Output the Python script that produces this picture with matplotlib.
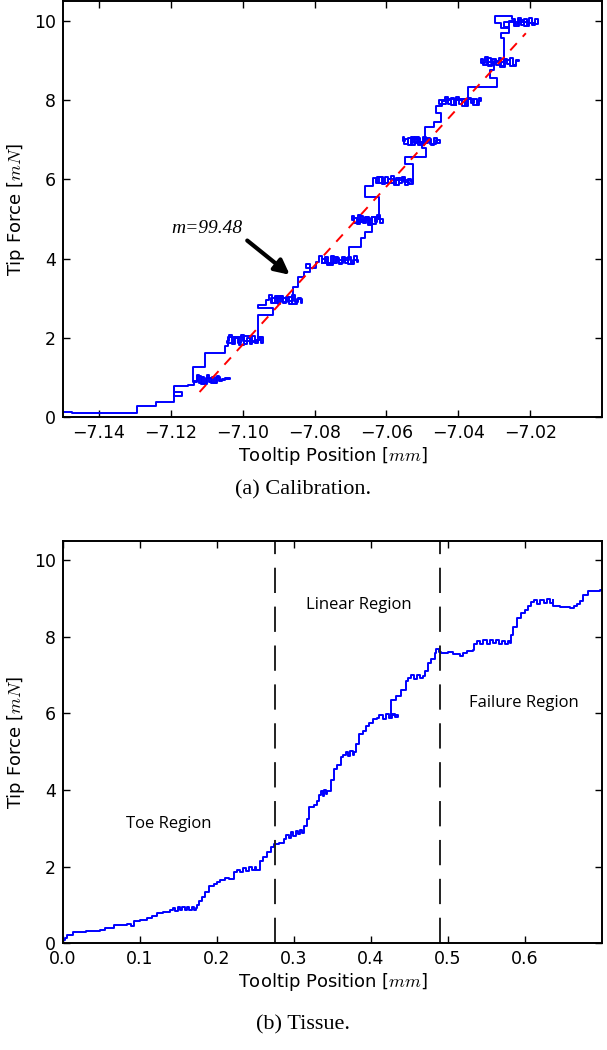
import matplotlib
matplotlib.use("Agg")
import matplotlib.pyplot as plt

plt.rcParams['mathtext.fontset'] = 'cm'
plt.rcParams['font.family'] = ['DejaVu Sans']

# ---------------- Calibration data (a) ----------------
# approach + hold segments of the trace, in order (position mm, force mN)
seg0_x = [-7.1500, -7.1475, -7.1475, -7.1295, -7.1295, -7.1240, -7.1240, -7.1190, -7.1190, -7.1190,
          -7.1168, -7.1168, -7.1190, -7.1190, -7.1152, -7.1152, -7.1135]
seg0_y = [0.13, 0.13, 0.10, 0.19, 0.27, 0.28, 0.39, 0.40, 0.75, 0.64,
          0.62, 0.52, 0.52, 0.77, 0.77, 0.81, 0.81]
hold1_x = [-7.1135, -7.1128, -7.1121, -7.1114, -7.1107, -7.1100, -7.1093, -7.1086, -7.1079, -7.1072,
           -7.1065, -7.1058, -7.1036, -7.1050, -7.1062, -7.1074, -7.1088, -7.1101, -7.1115, -7.1128, -7.1137]
hold1_y = [0.92, 1.06, 0.86, 1.02, 0.84, 1.05, 0.88, 1.00, 0.85, 1.04,
           0.90, 0.97, 0.98, 0.93, 1.01, 0.87, 0.99, 0.83, 1.03, 0.88, 0.98]
seg1_x = [-7.1137, -7.1106, -7.1106, -7.1050, -7.1050, -7.1040, -7.1040]
seg1_y = [1.27, 1.31, 1.61, 1.61, 1.78, 1.78, 1.88]
hold2_x = [-7.1045, -7.1037, -7.1029, -7.1021, -7.1013, -7.1005, -7.0997, -7.0989, -7.0981, -7.0973,
           -7.0965, -7.0957, -7.0949, -7.0944, -7.0952, -7.0966, -7.0980, -7.0995, -7.1010, -7.1025,
           -7.1040, -7.1000, -7.0958]
hold2_y = [1.92, 2.06, 1.84, 2.03, 1.86, 2.07, 1.85, 2.00, 1.83, 2.04,
           1.88, 2.01, 1.86, 2.02, 1.95, 1.89, 2.05, 1.82, 1.99, 1.87,
           2.03, 1.93, 2.00]
seg2_x = [-7.0958, -7.0917, -7.0917, -7.0958, -7.0958, -7.0935]
seg2_y = [2.58, 2.58, 2.74, 2.74, 2.82, 2.82]
hold3_x = [-7.0935, -7.0927, -7.0919, -7.0911, -7.0903, -7.0895, -7.0887, -7.0879, -7.0871, -7.0863,
           -7.0855, -7.0847, -7.0839, -7.0836, -7.0848, -7.0862, -7.0876, -7.0890, -7.0905, -7.0920,
           -7.0880, -7.0860]
hold3_y = [2.95, 3.08, 2.88, 3.05, 2.86, 3.06, 2.89, 3.03, 2.85, 3.07,
           2.90, 3.01, 2.87, 2.97, 2.84, 3.02, 2.91, 3.06, 2.88, 3.00,
           2.93, 3.04]
seg3_x = [-7.0860, -7.0846, -7.0846, -7.0828, -7.0828, -7.0814, -7.0814, -7.0823, -7.0823, -7.0795]
seg3_y = [3.28, 3.28, 3.54, 3.54, 3.66, 3.66, 3.87, 3.87, 3.76, 3.76]
hold4_x = [-7.0795, -7.0787, -7.0779, -7.0771, -7.0763, -7.0755, -7.0747, -7.0739, -7.0731, -7.0723,
           -7.0715, -7.0707, -7.0699, -7.0691, -7.0683, -7.0680, -7.0692, -7.0706, -7.0720, -7.0735,
           -7.0750, -7.0765, -7.0780, -7.0740, -7.0703]
hold4_y = [3.92, 4.06, 3.88, 4.04, 3.86, 4.07, 3.90, 4.02, 3.85, 4.05,
           3.89, 4.03, 3.87, 4.06, 3.91, 3.96, 3.86, 4.01, 3.88, 4.04,
           3.84, 4.00, 3.90, 3.97, 3.96]
seg4_x = [-7.0703, -7.0671, -7.0671, -7.0660, -7.0660, -7.0640, -7.0640]
seg4_y = [4.30, 4.30, 4.51, 4.51, 4.67, 4.67, 4.85]
hold5_x = [-7.0650, -7.0660, -7.0670, -7.0680, -7.0690, -7.0697, -7.0689, -7.0681, -7.0673, -7.0665,
           -7.0657, -7.0649, -7.0641, -7.0633, -7.0625, -7.0617, -7.0609, -7.0618, -7.0630, -7.0645,
           -7.0660, -7.0675, -7.0640, -7.0621]
hold5_y = [5.05, 4.92, 5.09, 4.90, 5.07, 4.98, 5.03, 4.88, 5.08, 4.91,
           5.06, 4.89, 5.04, 4.93, 5.09, 4.90, 4.99, 5.05, 4.87, 5.02,
           4.92, 4.97, 5.06, 5.00]
seg5_x = [-7.0621, -7.0659, -7.0659, -7.0636]
seg5_y = [5.56, 5.56, 5.82, 5.82]
hold6_x = [-7.0636, -7.0628, -7.0620, -7.0612, -7.0604, -7.0596, -7.0588, -7.0580, -7.0572, -7.0564,
           -7.0556, -7.0548, -7.0540, -7.0532, -7.0525, -7.0525, -7.0538, -7.0552, -7.0566, -7.0580,
           -7.0595, -7.0610, -7.0625, -7.0580, -7.0525]
hold6_y = [6.03, 5.90, 6.07, 5.88, 6.05, 5.91, 6.08, 5.89, 6.04, 5.92,
           6.06, 5.87, 6.02, 5.93, 5.97, 5.89, 5.93, 6.04, 5.86, 6.01,
           5.90, 6.05, 5.92, 5.99, 6.00]
seg6_x = [-7.0525, -7.0548, -7.0548, -7.0489, -7.0489, -7.0500]
seg6_y = [6.40, 6.40, 6.57, 6.57, 6.80, 6.80]
hold7_x = [-7.0500, -7.0510, -7.0520, -7.0530, -7.0540, -7.0550, -7.0555, -7.0547, -7.0539, -7.0531,
           -7.0523, -7.0515, -7.0507, -7.0499, -7.0491, -7.0483, -7.0475, -7.0467, -7.0459, -7.0450,
           -7.0462, -7.0478, -7.0495, -7.0512, -7.0530, -7.0494]
hold7_y = [6.95, 7.07, 6.88, 7.05, 6.90, 7.08, 6.96, 7.02, 6.86, 7.06,
           6.91, 7.04, 6.89, 7.07, 6.92, 7.03, 6.87, 7.05, 6.93, 6.99,
           6.90, 7.04, 6.86, 7.01, 6.94, 6.98]
seg7_x = [-7.0494, -7.0467, -7.0467, -7.0449, -7.0449, -7.0462, -7.0462, -7.0445]
seg7_y = [7.33, 7.33, 7.46, 7.46, 7.67, 7.67, 7.85, 7.85]
hold8_x = [-7.0445, -7.0437, -7.0429, -7.0421, -7.0413, -7.0405, -7.0397, -7.0389, -7.0381, -7.0373,
           -7.0365, -7.0357, -7.0349, -7.0341, -7.0336, -7.0346, -7.0360, -7.0375, -7.0390, -7.0405,
           -7.0420, -7.0435, -7.0453, -7.0420, -7.0374]
hold8_y = [7.97, 8.08, 7.90, 8.06, 7.88, 8.07, 7.91, 8.04, 7.86, 8.06,
           7.92, 8.03, 7.89, 8.05, 7.97, 7.88, 8.02, 7.84, 8.00, 7.89,
           8.04, 7.91, 8.00, 8.02, 7.98]
seg8_x = [-7.0374, -7.0292, -7.0292, -7.0311, -7.0311, -7.0300]
seg8_y = [8.34, 8.34, 8.55, 8.55, 8.76, 8.76]
hold9_x = [-7.0300, -7.0310, -7.0320, -7.0330, -7.0336, -7.0326, -7.0316, -7.0306, -7.0296, -7.0288,
           -7.0280, -7.0272, -7.0264, -7.0256, -7.0248, -7.0240, -7.0231, -7.0240, -7.0255, -7.0270,
           -7.0285, -7.0300, -7.0318, -7.0272]
hold9_y = [8.95, 9.07, 8.88, 9.05, 8.93, 9.08, 8.87, 9.04, 8.90, 9.06,
           8.86, 9.03, 8.91, 9.07, 8.89, 9.02, 8.99, 8.87, 9.01, 8.84,
           8.98, 8.90, 8.96, 8.95]
seg9_x = [-7.0272, -7.0281, -7.0281, -7.0258, -7.0258, -7.0280, -7.0280]
seg9_y = [9.56, 9.56, 9.69, 9.69, 9.81, 9.81, 9.95]
hold10_x = [-7.0299, -7.0299, -7.0250, -7.0250, -7.0242, -7.0234, -7.0226, -7.0218, -7.0210, -7.0202,
            -7.0194, -7.0186, -7.0178, -7.0178, -7.0190, -7.0204, -7.0218, -7.0232, -7.0246, -7.0260,
            -7.0274, -7.0240, -7.0210]
hold10_y = [9.95, 10.12, 10.12, 10.05, 9.92, 10.07, 9.89, 10.06, 9.91, 10.08,
            9.90, 10.04, 10.00, 9.92, 9.96, 9.88, 10.03, 9.87, 10.01, 9.85,
            9.98, 9.97, 10.00]

calib_pos = (seg0_x + hold1_x + seg1_x + hold2_x + seg2_x + hold3_x + seg3_x + hold4_x
             + seg4_x + hold5_x + seg5_x + hold6_x + seg6_x + hold7_x + seg7_x + hold8_x
             + seg8_x + hold9_x + seg9_x + hold10_x)
calib_force = (seg0_y + hold1_y + seg1_y + hold2_y + seg2_y + hold3_y + seg3_y + hold4_y
               + seg4_y + hold5_y + seg5_y + hold6_y + seg6_y + hold7_y + seg7_y + hold8_y
               + seg8_y + hold9_y + seg9_y + hold10_y)

fit_pos = [-7.1120, -7.0212]
fit_force = [0.63, 9.69]
slope_label = "m=99.48"
calib_xticks = [-7.14, -7.12, -7.10, -7.08, -7.06, -7.04, -7.02]
yticks = [0, 2, 4, 6, 8, 10]

# ---------------- Tissue data (b) ----------------
tissue_pos = [
    0.000, 0.003, 0.005, 0.010, 0.013, 0.030, 0.048, 0.055, 0.066, 0.075,
    0.083, 0.088, 0.092, 0.100, 0.109, 0.115, 0.122, 0.130, 0.139,
    0.143, 0.146, 0.149, 0.152, 0.155, 0.158, 0.161, 0.164, 0.167, 0.170, 0.173, 0.174,
    0.176, 0.180, 0.185, 0.190, 0.196, 0.200, 0.204, 0.210, 0.215, 0.222,
    0.226, 0.230, 0.234, 0.238, 0.242, 0.246, 0.249, 0.251,
    0.256, 0.260, 0.265, 0.270, 0.274, 0.280, 0.287,
    0.290, 0.293, 0.296, 0.299, 0.302, 0.305, 0.308, 0.311,
    0.313, 0.317, 0.320, 0.326, 0.330,
    0.333, 0.335, 0.337, 0.339, 0.341, 0.343,
    0.348, 0.352, 0.356, 0.361,
    0.364, 0.367, 0.370, 0.373, 0.376, 0.378,
    0.380, 0.385, 0.390, 0.393, 0.398, 0.403, 0.408,
    0.411, 0.415, 0.419, 0.423, 0.427, 0.431, 0.435, 0.426,
    0.426, 0.432, 0.439, 0.445,
    0.448, 0.452, 0.456, 0.460, 0.464, 0.468,
    0.470, 0.474, 0.478, 0.483, 0.485, 0.488, 0.491, 0.500, 0.506, 0.515, 0.520, 0.525, 0.532, 0.534,
    0.538, 0.542, 0.546, 0.550, 0.554, 0.558, 0.562, 0.566, 0.570, 0.574, 0.578, 0.580,
    0.582, 0.584, 0.589, 0.595, 0.600, 0.604, 0.608,
    0.612, 0.616, 0.620, 0.624, 0.628, 0.632, 0.636,
    0.636, 0.645, 0.652, 0.658, 0.664, 0.668, 0.671, 0.675, 0.682, 0.690, 0.697, 0.700,
]
tissue_force = [
    0.09, 0.15, 0.22, 0.22, 0.30, 0.31, 0.35, 0.40, 0.48, 0.47,
    0.50, 0.45, 0.58, 0.60, 0.65, 0.70, 0.78, 0.82, 0.87,
    0.92, 0.85, 0.95, 0.86, 0.94, 0.87, 0.96, 0.86, 0.95, 0.87, 0.93, 1.00,
    1.10, 1.22, 1.35, 1.50, 1.55, 1.60, 1.65, 1.70, 1.68, 1.85,
    1.92, 1.86, 1.97, 1.88, 1.99, 1.90, 1.98, 1.92,
    2.15, 2.25, 2.38, 2.50, 2.60, 2.62, 2.72,
    2.82, 2.76, 2.90, 2.80, 2.93, 2.84, 2.95, 2.88,
    3.05, 3.25, 3.55, 3.62, 3.70,
    3.88, 3.98, 3.85, 4.00, 3.90, 3.98,
    4.25, 4.55, 4.65, 4.85,
    4.90, 5.00, 4.88, 5.02, 4.92, 5.00,
    5.20, 5.45, 5.55, 5.66, 5.75, 5.85, 5.88,
    5.95, 5.86, 5.97, 5.88, 5.98, 5.90, 5.95, 5.92,
    6.35, 6.44, 6.61, 6.83,
    6.92, 7.00, 6.90, 7.00, 6.92, 6.98,
    7.10, 7.30, 7.42, 7.58, 7.67, 7.60, 7.58, 7.60, 7.55, 7.50, 7.58, 7.62, 7.66, 7.80,
    7.88, 7.80, 7.90, 7.82, 7.90, 7.83, 7.91, 7.82, 7.89, 7.80, 7.88, 7.84,
    8.04, 8.26, 8.48, 8.62, 8.70, 8.79, 8.90,
    8.95, 8.85, 8.96, 8.87, 8.97, 8.88, 8.95,
    8.80, 8.78, 8.77, 8.75, 8.80, 8.85, 8.92, 9.08, 9.18, 9.20, 9.22, 9.21,
]
region_bounds = [0.275, 0.49]
region_labels = ["Toe Region", "Linear Region", "Failure Region"]
region_label_pos = [(0.137, 3.1), (0.384, 8.83), (0.599, 6.27)]
tissue_xticks = [0.0, 0.1, 0.2, 0.3, 0.4, 0.5, 0.6]

# ---------------- Figure ----------------
fig = plt.figure(figsize=(6.07, 10.5), dpi=100)
ax1 = fig.add_axes([0.1038, 0.6029, 0.888, 0.396])
ax2 = fig.add_axes([0.1038, 0.1016, 0.888, 0.3834])

def style(ax):
    for s in ax.spines.values():
        s.set_linewidth(1.4)
    ax.tick_params(direction='in', top=True, right=True, length=5, width=1,
                   labelsize=12.5, pad=5, colors='black')
    ax.set_yticks(yticks)
    ax.set_yticklabels([str(v) for v in yticks])
    ax.set_ylim(0, 10.5)
    ax.set_ylabel('Tip Force [$mN$]', fontsize=13, labelpad=5)
    ax.set_xlabel('Tooltip Position [$mm$]', fontsize=13, labelpad=2)

# (a)
ax1.plot(calib_pos, calib_force, color='#0000ff', lw=1.4, drawstyle='steps-post')
ax1.plot(fit_pos, fit_force, color='red', lw=1.4, linestyle=(0, (5, 4.5)))
ax1.set_xlim(-7.15, -7.00)
ax1.set_xticks(calib_xticks)
ax1.set_xticklabels(['\u2212%.2f' % abs(v) for v in calib_xticks])
style(ax1)
ax1.annotate(slope_label, xy=(-7.0869, 3.59), xytext=(-7.110, 4.77),
             ha='center', va='center', fontsize=14, fontstyle='italic',
             family='Liberation Serif',
             arrowprops=dict(arrowstyle='-|>', lw=3.0, color='black',
                             mutation_scale=22, shrinkA=2, shrinkB=0,
                             relpos=(1.0, 0.0)))

# (b)
ax2.plot(tissue_pos, tissue_force, color='#0000ff', lw=1.4, drawstyle='steps-post')
for xb in region_bounds:
    ax2.axvline(xb, color='#222222', lw=1.4, linestyle=(0, (13, 7)))
for lab, (px, py) in zip(region_labels, region_label_pos):
    ax2.text(px, py, lab, ha='center', va='center', fontsize=12, family='Open Sans')
ax2.set_xlim(0, 0.7)
ax2.set_xticks(tissue_xticks)
ax2.set_xticklabels(['%.1f' % v for v in tissue_xticks])
style(ax2)

fig.text(0.5, 0.533, '(a) Calibration.', ha='center', va='center', fontsize=16,
         family='Liberation Serif')
fig.text(0.5, 0.024, '(b) Tissue.', ha='center', va='center', fontsize=16,
         family='Liberation Serif')

fig.savefig('out.png', dpi=100)
